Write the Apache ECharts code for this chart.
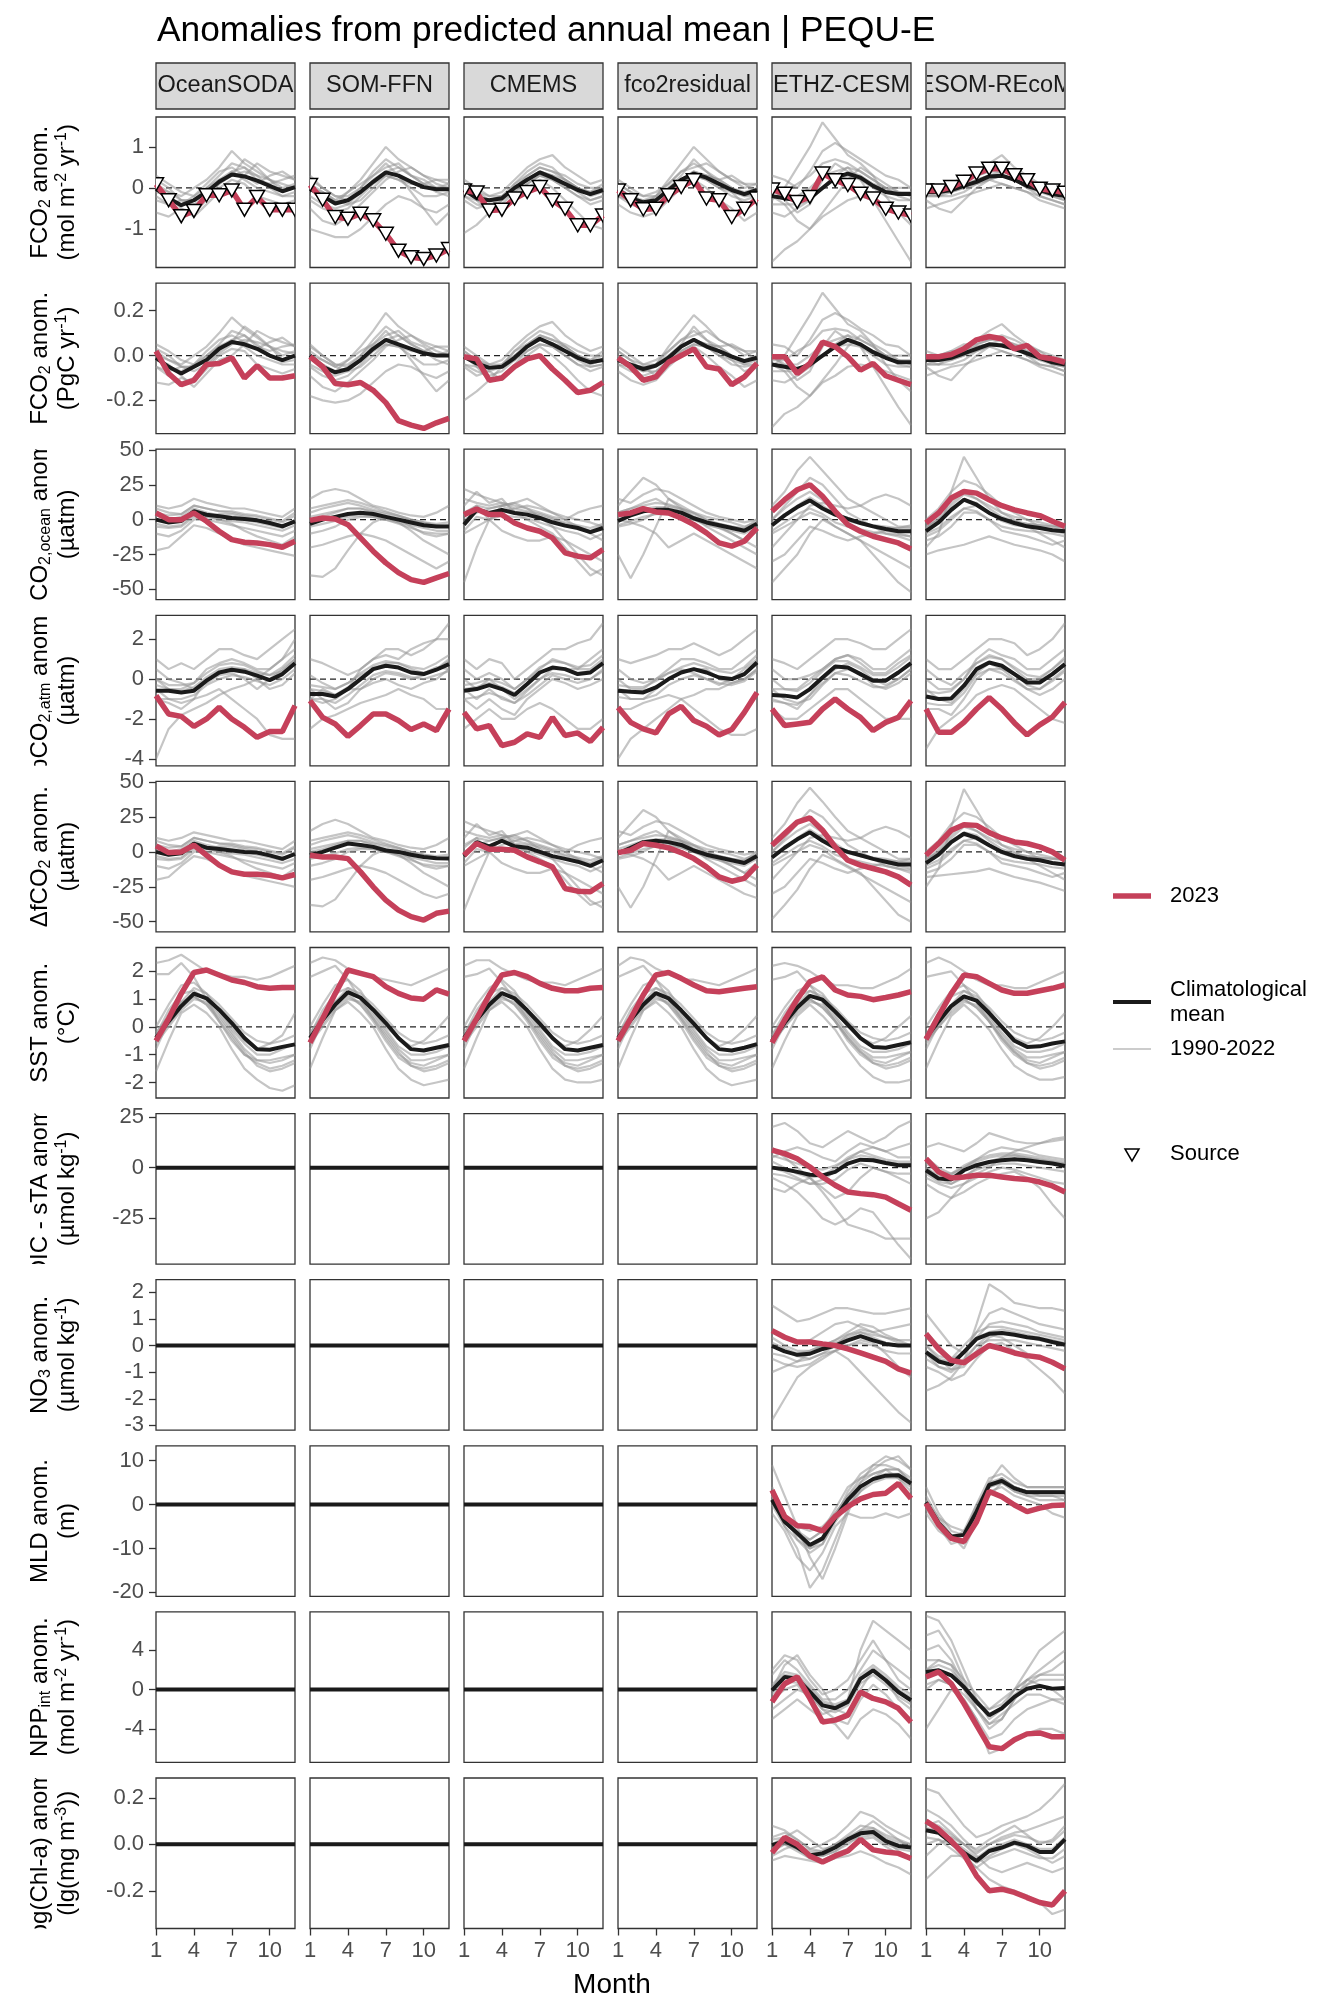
<!DOCTYPE html>
<html><head><meta charset="utf-8">
<script src="https://cdn.jsdelivr.net/npm/echarts@6/dist/echarts.min.js"></script>
<style>html,body{margin:0;padding:0;background:#fff;}#c{width:1344px;height:2016px;}</style>
</head><body><div id="c"></div>
<script>
// ---------------- DATA ----------------
const months = [1,2,3,4,5,6,7,8,9,10,11,12];
const models = ['OceanSODA','SOM-FFN','CMEMS','fco2residual','ETHZ-CESM','ESOM-REcoM'];
const xTicks = [1,4,7,10];

// Row 1: FCO2 anom. (mol m-2 yr-1)
const fco2Ticks = [-1,0,1];
const fco2Mean = [
 [-0.02,-0.25,-0.42,-0.3,-0.1,0.15,0.33,0.28,0.18,0.05,-0.08,0.02],
 [-0.02,-0.2,-0.38,-0.3,-0.1,0.15,0.38,0.3,0.15,0.02,-0.03,-0.03],
 [-0.05,-0.25,-0.3,-0.25,0.0,0.2,0.38,0.25,0.1,-0.05,-0.15,-0.05],
 [-0.05,-0.25,-0.35,-0.3,-0.05,0.2,0.35,0.25,0.1,-0.05,-0.15,-0.05],
 [-0.2,-0.25,-0.3,-0.25,0.0,0.25,0.35,0.25,0.05,-0.1,-0.15,-0.15],
 [-0.1,-0.1,-0.05,0.05,0.15,0.28,0.3,0.2,0.05,-0.05,-0.15,-0.2]
];
const fco2Y2023 = [
 [0.09,-0.3,-0.69,-0.56,-0.18,-0.18,-0.06,-0.53,-0.22,-0.53,-0.53,-0.53],
 [0.07,-0.29,-0.71,-0.75,-0.63,-0.79,-1.12,-1.53,-1.69,-1.73,-1.65,-1.49],
 [-0.06,-0.11,-0.55,-0.53,-0.26,-0.1,0.02,-0.3,-0.51,-0.91,-0.91,-0.67],
 [-0.06,-0.3,-0.52,-0.51,-0.18,0.02,0.19,-0.26,-0.3,-0.71,-0.51,-0.26],
 [-0.04,-0.14,-0.34,-0.22,0.35,0.19,0.07,-0.14,-0.26,-0.51,-0.6,-0.67],
 [-0.06,-0.06,0.02,0.15,0.35,0.47,0.47,0.31,0.19,-0.02,-0.06,-0.12]
];
const fco2Hist = [
 [[0.1,-0.1,-0.2,0.0,0.2,0.5,0.9,0.6,0.4,0.2,0.1,0.0],[-0.2,-0.4,-0.6,-0.5,-0.2,0.1,0.3,0.4,0.3,0.2,0.0,0.1],[0.0,-0.3,-0.4,-0.2,0.1,0.4,0.5,0.3,0.1,0.3,0.4,0.2],[-0.6,-0.7,-0.5,-0.6,-0.3,0.0,0.2,0.1,-0.2,-0.3,-0.4,-0.3],[0.3,0.1,-0.1,-0.2,0.0,0.2,0.3,0.7,0.5,0.2,-0.1,0.0],[-0.1,-0.2,-0.5,-0.7,-0.4,-0.1,0.0,0.3,0.6,0.4,0.3,0.2],[0.2,0.0,-0.3,-0.3,0.0,0.3,0.6,0.5,0.3,0.0,-0.2,-0.1],[-0.3,-0.4,-0.3,-0.3,-0.1,0.2,0.4,0.2,0.0,-0.1,-0.2,-0.2],[0.0,-0.1,-0.3,-0.4,-0.2,0.1,0.4,0.5,0.2,0.1,0.2,0.3]],
 [[0.1,-0.1,-0.3,-0.1,0.2,0.6,1.0,0.7,0.5,0.3,0.2,0.2],[-1.0,-1.1,-1.2,-1.2,-1.0,-0.7,-0.4,-0.2,-0.3,-0.5,-0.6,-0.4],[0.3,0.0,-0.2,-0.3,0.0,0.3,0.5,0.6,0.3,0.2,0.0,0.1],[-0.3,-0.5,-0.6,-0.5,-0.2,0.1,0.3,0.2,0.0,-0.2,-0.2,-0.1],[-0.5,-0.8,-0.9,-0.7,-0.4,-0.1,0.2,0.4,0.5,0.3,0.1,0.0],[0.0,-0.2,-0.4,-0.1,0.1,0.3,0.6,0.3,-0.1,-0.5,-0.9,-0.6],[0.2,0.0,-0.2,-0.2,0.0,0.4,0.7,0.5,0.3,0.1,0.0,0.0],[-0.2,-0.4,-0.5,-0.4,-0.1,0.2,0.4,0.5,0.3,0.1,-0.1,-0.2],[0.0,-0.1,-0.3,-0.4,-0.3,0.0,0.3,0.2,0.1,0.1,0.2,0.1]],
 [[-1.1,-0.9,-0.6,-0.5,-0.2,0.1,0.3,0.2,0.0,-0.2,-0.4,-0.3],[0.2,0.0,-0.2,-0.1,0.2,0.5,0.7,0.8,0.5,0.3,0.1,0.2],[-0.2,-0.4,-0.5,-0.4,-0.1,0.2,0.4,0.3,0.1,-0.1,-0.3,-0.2],[0.1,-0.1,-0.3,-0.2,0.0,0.3,0.5,0.4,0.3,0.1,0.0,0.0],[-0.3,-0.5,-0.4,-0.6,-0.3,0.0,0.2,0.0,-0.3,-0.6,-0.9,-1.0],[0.0,-0.3,-0.6,-0.3,0.1,0.4,0.6,0.5,0.2,0.0,-0.1,0.1],[0.1,-0.1,-0.2,-0.2,0.1,0.3,0.5,0.4,0.2,0.0,-0.1,0.0],[-0.2,-0.3,-0.4,-0.3,-0.1,0.1,0.3,0.2,0.0,-0.2,-0.3,-0.2],[0.0,-0.2,-0.3,-0.3,0.0,0.2,0.4,0.3,0.2,0.0,-0.2,-0.1]],
 [[0.0,-0.2,-0.4,-0.2,0.2,0.6,1.0,0.7,0.4,0.2,0.1,0.1],[-0.4,-0.6,-0.7,-0.6,-0.3,0.0,0.2,0.0,-0.3,-0.5,-0.8,-0.6],[0.2,0.0,-0.2,-0.1,0.1,0.4,0.5,0.6,0.4,0.2,0.0,0.1],[-0.2,-0.4,-0.5,-0.4,-0.2,0.1,0.3,0.2,0.0,-0.2,-0.3,-0.2],[-0.1,-0.3,-0.3,-0.5,-0.1,0.2,0.4,0.3,0.2,0.3,0.1,-0.1],[0.1,-0.1,-0.4,-0.3,0.0,0.3,0.7,0.4,0.1,-0.1,-0.4,-0.3],[0.1,-0.1,-0.2,-0.2,0.1,0.4,0.6,0.4,0.2,0.0,-0.1,0.0],[-0.2,-0.3,-0.4,-0.4,-0.1,0.1,0.3,0.2,0.0,-0.1,-0.2,-0.2],[0.0,-0.2,-0.3,-0.2,0.0,0.2,0.4,0.3,0.2,0.0,-0.2,-0.1]],
 [[-0.3,0.0,0.5,1.0,1.6,1.2,0.8,0.6,0.3,0.1,-0.1,-0.2],[-1.8,-1.5,-1.3,-1.0,-0.7,-0.5,-0.3,-0.2,-0.3,-0.4,-0.5,-0.6],[0.3,0.2,0.0,0.4,0.9,1.1,0.9,0.7,0.5,0.3,0.2,0.0],[-0.6,-0.7,-0.5,-0.3,0.0,0.3,0.5,0.2,-0.3,-0.8,-1.3,-1.8],[0.0,-0.3,-0.6,-0.4,0.2,0.6,0.4,0.3,0.1,0.0,-0.2,-0.3],[-0.2,-0.4,-0.8,-1.0,-0.6,-0.2,0.2,0.5,0.3,-0.2,-0.6,-0.9],[-0.1,-0.1,0.1,0.3,0.6,0.7,0.6,0.4,0.2,0.0,-0.1,-0.1],[-0.4,-0.4,-0.4,-0.3,0.0,0.2,0.3,0.2,0.0,-0.2,-0.3,-0.3],[0.0,-0.2,-0.2,0.0,0.3,0.4,0.5,0.4,0.2,0.0,0.0,0.0]],
 [[-0.2,-0.1,0.0,0.2,0.4,0.6,0.8,0.5,0.3,0.1,-0.1,-0.2],[-0.5,-0.4,-0.3,-0.2,-0.1,0.0,0.1,0.0,-0.1,-0.3,-0.4,-0.5],[0.1,0.0,0.1,0.3,0.3,0.4,0.5,0.4,0.2,0.0,-0.1,-0.2],[-0.3,-0.5,-0.6,-0.3,0.0,0.2,0.3,0.2,0.0,-0.2,-0.3,-0.4],[0.0,-0.1,-0.1,0.0,0.2,0.3,0.4,0.3,0.2,0.1,0.0,-0.1],[-0.1,-0.2,-0.2,-0.1,0.1,0.2,0.1,0.0,-0.1,-0.2,-0.3,-0.4],[-0.2,-0.2,0.0,0.1,0.3,0.4,0.4,0.3,0.1,0.0,-0.2,-0.3],[0.0,0.0,0.1,0.1,0.2,0.3,0.3,0.2,0.0,-0.1,-0.1,-0.2],[-0.2,-0.2,-0.1,0.0,0.1,0.2,0.3,0.2,0.1,-0.1,-0.2,-0.3]]
];

// Row 2: FCO2 anom. (PgC yr-1)
const fco2PgTicks = [-0.2,0,0.2];
const fco2PgMean = [
 [-0.01,-0.05,-0.08,-0.05,-0.02,0.03,0.06,0.05,0.03,0.0,-0.02,0.0],
 [0.0,-0.05,-0.075,-0.06,-0.02,0.03,0.07,0.05,0.03,0.01,0.0,0.0],
 [-0.005,-0.035,-0.055,-0.05,-0.01,0.04,0.075,0.05,0.02,-0.01,-0.03,-0.02],
 [-0.02,-0.04,-0.06,-0.045,-0.01,0.04,0.07,0.04,0.02,-0.005,-0.025,-0.01],
 [-0.04,-0.05,-0.06,-0.04,0.0,0.04,0.07,0.05,0.015,-0.01,-0.03,-0.03],
 [-0.02,-0.02,-0.01,0.01,0.03,0.05,0.045,0.03,0.01,-0.01,-0.03,-0.04]
];
const fco2PgY2023 = [
 [0.02,-0.08,-0.13,-0.11,-0.04,-0.035,-0.01,-0.1,-0.045,-0.1,-0.1,-0.09],
 [-0.005,-0.05,-0.125,-0.13,-0.12,-0.155,-0.21,-0.29,-0.31,-0.325,-0.3,-0.28],
 [-0.005,-0.015,-0.11,-0.1,-0.05,-0.015,0.0,-0.06,-0.11,-0.165,-0.155,-0.12],
 [-0.01,-0.05,-0.11,-0.095,-0.03,0.0,0.03,-0.05,-0.06,-0.13,-0.095,-0.035],
 [-0.005,-0.005,-0.08,-0.035,0.06,0.04,-0.005,-0.065,-0.035,-0.09,-0.11,-0.13],
 [-0.005,-0.005,0.005,0.03,0.07,0.085,0.075,0.03,0.045,-0.005,-0.015,-0.03]
];
const fco2PgHist = [
 [[0.02,-0.02,-0.04,0.0,0.04,0.1,0.17,0.12,0.08,0.04,0.02,0.01],[-0.05,-0.09,-0.12,-0.1,-0.05,0.01,0.05,0.07,0.06,0.04,0.0,0.02],[0.0,-0.05,-0.07,-0.04,0.02,0.07,0.09,0.06,0.03,0.06,0.08,0.04],[-0.12,-0.13,-0.1,-0.12,-0.06,0.0,0.03,0.02,-0.04,-0.06,-0.08,-0.06],[0.05,0.02,-0.02,-0.04,0.0,0.04,0.06,0.13,0.09,0.04,-0.02,0.0],[-0.02,-0.04,-0.09,-0.14,-0.08,-0.02,0.0,0.05,0.11,0.08,0.06,0.04],[0.03,0.0,-0.05,-0.05,0.0,0.05,0.11,0.09,0.05,0.0,-0.03,-0.02],[-0.05,-0.07,-0.05,-0.05,-0.02,0.04,0.07,0.04,0.0,-0.02,-0.04,-0.04],[0.0,-0.02,-0.05,-0.07,-0.04,0.02,0.07,0.09,0.04,0.02,0.04,0.05]],
 [[0.02,-0.02,-0.05,-0.02,0.04,0.11,0.19,0.13,0.09,0.06,0.04,0.04],[-0.18,-0.2,-0.21,-0.2,-0.17,-0.12,-0.07,-0.04,-0.05,-0.08,-0.1,-0.07],[0.05,0.0,-0.04,-0.05,0.0,0.05,0.09,0.11,0.06,0.04,0.0,0.02],[-0.05,-0.09,-0.11,-0.09,-0.04,0.02,0.05,0.04,0.0,-0.04,-0.04,-0.02],[-0.09,-0.14,-0.16,-0.12,-0.07,-0.02,0.04,0.07,0.09,0.05,0.02,0.0],[0.0,-0.04,-0.07,-0.02,0.02,0.05,0.11,0.05,-0.02,-0.09,-0.16,-0.11],[0.04,0.0,-0.04,-0.04,0.0,0.07,0.13,0.09,0.05,0.02,0.0,0.0],[-0.04,-0.07,-0.09,-0.07,-0.02,0.04,0.07,0.09,0.05,0.02,-0.02,-0.04],[0.0,-0.02,-0.05,-0.07,-0.05,0.0,0.05,0.04,0.02,0.02,0.04,0.02]],
 [[-0.2,-0.16,-0.11,-0.09,-0.04,0.02,0.05,0.04,0.0,-0.04,-0.07,-0.05],[0.04,0.0,-0.04,-0.02,0.04,0.09,0.13,0.15,0.09,0.05,0.02,0.04],[-0.04,-0.07,-0.09,-0.07,-0.02,0.04,0.07,0.05,0.02,-0.02,-0.05,-0.04],[0.02,-0.02,-0.05,-0.04,0.0,0.05,0.09,0.07,0.05,0.02,0.0,0.0],[-0.05,-0.09,-0.07,-0.11,-0.05,0.0,0.04,0.0,-0.05,-0.11,-0.16,-0.18],[0.0,-0.05,-0.11,-0.05,0.02,0.07,0.11,0.09,0.04,0.0,-0.02,0.02],[0.02,-0.02,-0.04,-0.04,0.02,0.05,0.09,0.07,0.04,0.0,-0.02,0.0],[-0.04,-0.05,-0.07,-0.05,-0.02,0.02,0.05,0.04,0.0,-0.04,-0.05,-0.04],[0.0,-0.04,-0.05,-0.05,0.0,0.04,0.07,0.05,0.04,0.0,-0.04,-0.02]],
 [[0.0,-0.04,-0.07,-0.04,0.04,0.11,0.18,0.13,0.07,0.04,0.02,0.02],[-0.07,-0.11,-0.13,-0.11,-0.05,0.0,0.04,0.0,-0.05,-0.09,-0.14,-0.11],[0.04,0.0,-0.04,-0.02,0.02,0.07,0.09,0.11,0.07,0.04,0.0,0.02],[-0.04,-0.07,-0.09,-0.07,-0.04,0.02,0.05,0.04,0.0,-0.04,-0.05,-0.04],[-0.02,-0.05,-0.05,-0.09,-0.02,0.04,0.07,0.05,0.04,0.05,0.02,-0.02],[0.02,-0.02,-0.07,-0.05,0.0,0.05,0.13,0.07,0.02,-0.02,-0.07,-0.05],[0.02,-0.02,-0.04,-0.04,0.02,0.07,0.11,0.07,0.04,0.0,-0.02,0.0],[-0.04,-0.05,-0.07,-0.07,-0.02,0.02,0.05,0.04,0.0,-0.02,-0.04,-0.04],[0.0,-0.04,-0.05,-0.04,0.0,0.04,0.07,0.05,0.04,0.0,-0.04,-0.02]],
 [[-0.05,0.0,0.09,0.18,0.28,0.21,0.14,0.11,0.05,0.02,-0.02,-0.04],[-0.32,-0.26,-0.23,-0.18,-0.12,-0.09,-0.05,-0.04,-0.05,-0.07,-0.09,-0.11],[0.05,0.04,0.0,0.07,0.16,0.19,0.16,0.12,0.09,0.05,0.04,0.0],[-0.11,-0.12,-0.09,-0.05,0.0,0.05,0.09,0.04,-0.05,-0.14,-0.23,-0.31],[0.0,-0.05,-0.11,-0.07,0.04,0.11,0.07,0.05,0.02,0.0,-0.04,-0.05],[-0.04,-0.07,-0.14,-0.18,-0.11,-0.04,0.04,0.09,0.05,-0.04,-0.11,-0.16],[-0.02,-0.02,0.02,0.05,0.11,0.12,0.11,0.07,0.04,0.0,-0.02,-0.02],[-0.07,-0.07,-0.07,-0.05,0.0,0.04,0.05,0.04,0.0,-0.04,-0.05,-0.05],[0.0,-0.04,-0.04,0.0,0.05,0.07,0.09,0.07,0.04,0.0,0.0,0.0]],
 [[-0.04,-0.02,0.0,0.04,0.07,0.11,0.14,0.09,0.05,0.02,-0.02,-0.04],[-0.09,-0.07,-0.05,-0.04,-0.02,0.0,0.02,0.0,-0.02,-0.05,-0.07,-0.09],[0.02,0.0,0.02,0.05,0.05,0.07,0.09,0.07,0.04,0.0,-0.02,-0.04],[-0.05,-0.09,-0.11,-0.05,0.0,0.04,0.05,0.04,0.0,-0.04,-0.05,-0.07],[0.0,-0.02,-0.02,0.0,0.04,0.05,0.07,0.05,0.04,0.02,0.0,-0.02],[-0.02,-0.04,-0.04,-0.02,0.02,0.04,0.02,0.0,-0.02,-0.04,-0.05,-0.07],[-0.04,-0.04,0.0,0.02,0.05,0.07,0.07,0.05,0.02,0.0,-0.04,-0.05],[0.0,0.0,0.02,0.02,0.04,0.05,0.05,0.04,0.0,-0.02,-0.02,-0.04],[-0.04,-0.04,-0.02,0.0,0.02,0.04,0.05,0.04,0.02,-0.02,-0.04,-0.05]]
];

// Row 3: pCO2,ocean anom. (µatm)
const pco2oTicks = [-50,-25,0,25,50];
const pco2oMean = [
 [0,-2,-1,6,3.5,2.4,1.2,0.5,-0.5,-2.4,-4.8,-1.2],
 [-3,0,2,4,5,4,2,0,-2,-4,-5,-5],
 [-3.6,7,4.8,7,4.8,3.6,1.2,-1.9,-4.3,-6,-9,-6],
 [-1,3,6,7,7,5,1,-2,-4,-6,-8,-3],
 [-4,3,9,13.8,8,3.6,0.5,-2.4,-4.8,-6.7,-8.3,-8.3],
 [-8.3,-2,7,14.3,10.7,4.8,0.5,-2.4,-4.8,-6,-7.6,-8.3]
];
const pco2oY2023 = [
 [4.8,0,0,4.8,-1.2,-8.3,-14.3,-16.2,-16.7,-17.9,-19.8,-15.5],
 [-0.5,1.2,0.5,-3.6,-13.1,-22.6,-31,-38,-43,-45,-41.7,-38.6],
 [3.6,7.6,3.6,3.6,-2.4,-6,-8.3,-13.1,-23.8,-26.2,-27.4,-21.4],
 [3.6,4.8,7.9,5.5,4.8,1.2,-3.6,-9.5,-16.7,-19,-15.5,-6],
 [6,14.3,21.4,25,16.7,6,-3.6,-8.3,-11.9,-14.3,-16.7,-21],
 [-2.4,4.8,15.5,20.2,19,14.3,10,7,4.8,2.9,-1.2,-4.8]
];
const pco2oHist = [
 [[-22,-20,-12,-4,-6,-10,-14,-18,-20,-22,-24,-26],[10,8,10,15,12,10,8,8,6,4,2,8],[5,3,4,10,8,6,5,3,2,0,-2,3],[-5,-6,-5,2,0,-2,-4,-6,-8,-10,-12,-8],[0,-2,-1,6,3,0,-3,-8,-12,-15,-18,-12],[-10,-12,-8,0,2,4,4,2,0,-2,-4,-2],[8,5,4,10,8,6,6,4,3,1,-1,5],[-3,-5,-4,4,2,0,-1,-2,-4,-6,-8,-4],[3,0,2,8,5,3,2,0,-2,-4,-6,0]],
 [[-40,-41,-35,-22,-10,-2,2,0,-5,-10,-12,-10],[15,20,22,20,15,10,8,5,3,2,5,10],[5,8,10,12,10,7,5,3,0,-2,-4,-5],[-10,-8,-5,0,2,2,0,-3,-6,-9,-10,-10],[-20,-18,-15,-12,-10,-12,-15,-20,-25,-30,-35,-30],[0,2,5,8,8,5,2,-2,-8,-15,-20,-25],[8,10,12,14,12,9,6,3,0,-2,-3,-2],[-5,-3,-1,2,3,2,0,-2,-4,-6,-8,-8],[2,4,6,8,8,6,4,2,-1,-3,-5,-4]],
 [[-45,-20,0,10,12,8,2,-5,-15,-25,-35,-40],[22,18,15,12,10,8,5,2,0,5,8,10],[10,20,12,15,5,0,-5,-10,-20,-30,-40,-35],[-10,-5,0,5,8,10,8,5,2,0,-2,-5],[0,5,8,10,12,15,10,5,0,-5,-10,-15],[5,10,0,-8,-12,-15,-15,-12,-15,-20,-25,-30],[15,12,10,12,8,6,4,1,-2,-4,-6,-3],[-8,2,0,3,2,1,-2,-5,-8,-10,-14,-10],[3,10,8,10,6,5,3,0,-3,-5,-8,-4]],
 [[-25,-42,-25,-5,15,10,5,0,-5,-10,-15,-20],[10,20,30,25,15,8,2,-5,-10,-15,-20,-25],[5,8,12,15,10,8,5,2,0,-2,-5,-2],[-5,-3,0,5,5,3,0,-3,-6,-10,-15,-8],[0,-2,-5,-10,-20,-15,-10,-15,-20,-25,-30,-35],[15,12,18,22,20,15,10,5,2,0,-2,0],[5,8,10,12,11,8,4,0,-3,-5,-7,-2],[-4,-1,2,4,4,3,0,-4,-6,-8,-10,-5],[2,5,8,9,9,7,2,-1,-3,-5,-6,0]],
 [[-45,-35,-25,-10,0,-5,-10,-15,-20,-25,-30,-35],[10,20,35,45,35,25,15,10,5,0,-5,-5],[0,10,20,30,25,15,5,0,-5,-10,-12,-15],[-10,-5,0,5,2,-5,-10,-15,-25,-35,-45,-52],[-20,-10,0,10,12,10,8,10,15,18,15,10],[-30,-25,-15,-5,-8,-12,-15,-12,-10,-8,-10,-12],[0,8,15,20,14,6,0,-2,-4,-5,-6,-6],[-8,-2,4,8,4,-2,-5,-7,-9,-10,-11,-12],[-3,4,10,16,10,4,-1,-3,-5,-6,-6,-4]],
 [[-20,-10,20,45,30,15,5,0,-5,-10,-15,-20],[-25,-22,-20,-18,-15,-12,-15,-18,-20,-22,-25,-30],[0,8,20,28,25,18,10,5,0,-5,-8,-10],[-12,-8,0,8,10,5,0,-2,-3,-4,-5,-5],[-5,0,10,18,15,10,5,2,0,-2,-4,-6],[-15,-12,-5,5,5,0,-8,-10,-12,-15,-18,-15],[-6,2,12,20,15,8,2,-1,-3,-4,-5,-5],[-10,-6,2,8,6,0,-5,-7,-8,-9,-10,-12],[-6,0,8,14,12,5,-1,-4,-5,-6,-7,-7]]
];

// Row 4: pCO2,atm anom. (µatm)
const pco2aTicks = [-4,-2,0,2];
const pco2aMean = [
 [-0.58,-0.58,-0.67,-0.58,-0.08,0.33,0.47,0.37,0.17,-0.05,0.25,0.8],
 [-0.75,-0.75,-0.87,-0.5,0,0.5,0.67,0.58,0.33,0.25,0.47,0.75],
 [-0.58,-0.5,-0.3,-0.5,-0.8,-0.25,0.33,0.58,0.5,0.25,0.33,0.8],
 [-0.58,-0.63,-0.67,-0.42,0,0.33,0.5,0.33,0.08,0,0.25,0.83],
 [-0.8,-0.83,-0.92,-0.5,0.08,0.63,0.58,0.25,-0.08,-0.08,0.33,0.8],
 [-0.87,-1,-0.97,-0.33,0.5,0.83,0.67,0.25,-0.17,-0.17,0.25,0.75]
];
const pco2aY2023 = [
 [-0.83,-1.75,-1.87,-2.37,-2.0,-1.42,-2.0,-2.42,-2.92,-2.63,-2.63,-1.33],
 [-1.08,-1.92,-2.25,-2.87,-2.33,-1.75,-1.75,-2.08,-2.53,-2.25,-2.58,-1.5],
 [-1.67,-2.5,-2.33,-3.33,-3.17,-2.75,-2.92,-1.92,-2.83,-2.7,-3.13,-2.42],
 [-1.42,-2.17,-2.5,-2.7,-1.75,-1.37,-2.08,-2.37,-2.8,-2.53,-1.67,-0.67],
 [-1.5,-2.33,-2.25,-2.17,-1.5,-1.0,-1.5,-1.92,-2.58,-2.17,-1.92,-1.08],
 [-1.5,-2.67,-2.67,-2.17,-1.5,-0.92,-1.5,-2.2,-2.8,-2.3,-1.9,-1.17]
];
const pco2aHist = [
 [[-4,-2.5,-1.8,-1.5,-1.2,-0.8,-0.5,-0.3,0,0.5,1,2],[1,0.5,0.8,0.5,1,1.5,1.5,1.2,1,1.5,2,2.5],[0,-0.5,-0.5,-0.2,0.5,0.8,1,0.8,0.5,0.5,1,1.5],[-1,-1.2,-1.5,-1,-0.8,-0.5,-1,-1.5,-2,-2.8,-3,-3],[-0.5,-1,-1.2,-1,0,0.3,0.5,0.5,0,-0.5,-0.3,0.3],[0.5,0,-0.2,-0.5,-0.2,0.2,0.3,0,-0.5,0,0.5,1],[0,-0.3,-0.3,-0.2,0.3,0.7,0.8,0.7,0.4,0.2,0.6,1.2],[-1,-1,-1,-0.8,-0.3,0,0.2,0.1,-0.1,-0.3,0,0.5],[-0.3,-0.5,-0.6,-0.4,0.1,0.5,0.6,0.5,0.3,0.2,0.4,1]],
 [[-1,-0.5,-0.8,-0.5,0.5,1,1.5,1.5,1.2,1.5,2,2.8],[1,0.8,0.5,0.2,0.5,1,1.2,1,1.5,1.8,2,2],[-0.5,-1,-1.5,-1.2,-0.5,0,0.3,0.2,0,0.2,0.5,1],[-2.5,-2,-1.8,-1.5,-1.2,-1,-0.8,-0.5,-0.8,-1,-1.5,-1.5],[0.2,-0.2,-0.5,-0.2,0.2,0.5,0.8,0.8,0.5,0.3,0.6,0.5],[-1,-1.2,-1,-0.5,-0.5,-0.2,0,-0.3,-0.5,-0.2,0,0.5],[-0.3,-0.4,-0.5,-0.2,0.3,0.7,0.9,0.8,0.6,0.5,0.8,1.2],[-1,-1,-1.2,-0.8,-0.3,0.2,0.4,0.3,0.1,0,0.2,0.4],[-0.5,-0.6,-0.8,-0.4,0,0.6,0.7,0.6,0.3,0.3,0.5,0.9]],
 [[-2.5,-2,-1.5,-2,-2,-1.5,-1.2,-1.5,-2,-2.5,-2.5,-2],[1,0.5,1,0.8,0,0.5,1,1.5,1.5,1.8,2,2.8],[0,-0.5,0,-0.5,-1,-0.5,0,0.5,0.5,0.5,1,1.5],[-1,-1.5,-1,-1.5,-1.8,-1,-0.5,0,-0.2,-0.5,-0.3,0],[0.5,0,0.3,0,-0.5,0,0.5,1,0.8,0.5,0.5,1],[-0.5,-1,-0.5,-1,-1.2,-0.8,-0.3,0.2,0,-0.2,0,0.5],[-0.3,-0.2,0,-0.2,-0.5,0,0.6,0.9,0.8,0.6,0.7,1.2],[-1,-0.9,-0.7,-0.9,-1.2,-0.6,0,0.3,0.2,0,0,0.4],[-0.5,-0.4,-0.2,-0.4,-0.7,-0.2,0.3,0.6,0.5,0.3,0.4,0.8]],
 [[-4,-3,-2.5,-2,-1.5,-1,-0.8,-0.5,-0.5,-0.2,0,0.5],[1,0.8,1,1.2,1.5,1.5,1.8,1.5,1.2,1.5,2,2.5],[0,-0.5,-0.5,0,0.5,1,1,0.8,0.5,0.5,1,1.5],[-1.5,-1.5,-1.2,-1,-0.8,-1,-1.5,-2,-2.5,-2.8,-2.8,-2.5],[-0.5,-1,-1,-0.5,0,0.3,0.5,0.5,0,-0.2,0,0.5],[0.5,0,-0.2,0,0.3,0.5,0.3,0,-0.3,0,0.5,1],[-0.3,-0.4,-0.4,-0.1,0.3,0.6,0.8,0.6,0.4,0.3,0.6,1.2],[-0.9,-1,-1,-0.8,-0.3,0,0.2,0,-0.2,-0.3,-0.1,0.4],[-0.5,-0.6,-0.6,-0.4,0,0.4,0.5,0.4,0.1,0,0.3,0.9]],
 [[-1.5,-2,-2,-1.5,-1,-0.5,-0.5,-1,-1.5,-2,-2,-2],[1,0.8,0.5,1,1.5,2,2,1.8,1.5,1.5,2,2.5],[0,-0.5,-0.5,0,0.5,1,1.2,1,0.5,0.5,1,1.5],[-0.5,-1,-1.2,-1,-0.3,0.3,0.5,0.3,-0.3,-0.5,-0.2,0.3],[0.5,0,0,0.2,0.5,1,1.2,0.8,0.3,0.3,0.8,1.2],[-1,-1.2,-1.5,-0.8,0,0.5,0.8,0.5,0,-0.3,0,0.5],[-0.5,-0.5,-0.6,-0.2,0.4,0.9,0.9,0.6,0.2,0.2,0.6,1.1],[-1.1,-1.2,-1.3,-0.8,-0.2,0.3,0.2,-0.1,-0.4,-0.4,0,0.5],[-0.8,-0.8,-0.9,-0.5,0.1,0.6,0.6,0.3,-0.1,-0.1,0.3,0.8]],
 [[-3.5,-2.5,-2,-1.5,-0.8,-0.5,-0.3,-0.5,-1,-1.5,-2,-2.2],[1,0.5,0.5,1,1.5,2,2,1.8,1.2,1.5,2,2.8],[0,-0.5,-0.5,0,1,1.5,1.2,1,0.5,0.5,1,1.5],[-0.5,-1,-1.2,-0.5,0.3,0.8,0.5,0.3,-0.3,-0.5,0,0.5],[-1.5,-1.5,-1.8,-1,0,0.5,0.5,0,-0.5,-0.8,-0.5,0],[0.5,0,-0.3,0.3,0.8,1.2,1,0.5,0,0,0.5,1],[-0.6,-0.7,-0.6,0,0.8,1.1,1,0.6,0.2,0.1,0.5,1.1],[-1.2,-1.3,-1.3,-0.7,0.2,0.5,0.3,-0.1,-0.5,-0.5,-0.1,0.4],[-0.9,-1,-1,-0.3,0.5,0.8,0.7,0.3,-0.2,-0.2,0.3,0.8]]
];

// Row 5: ΔfCO2 anom. (µatm)
const dfco2Ticks = [-50,-25,0,25,50];
const dfco2Mean = [
 [0,-2,-1,6,3,2,1,0,-0.5,-2.5,-5,-1.5],
 [-2.4,0,3,6,5,3.6,1,0,-2,-3.6,-4.5,-4.8],
 [-3,7,4,8,4,3,0,-3,-5,-7,-10,-6],
 [-1,3,7,8,7,5,1,-2,-4,-6,-8,-3],
 [-4,3,9,14,8,3,0,-2.4,-5,-7,-9,-9],
 [-8,-2,7,13,10,4.8,0,-3,-5,-6,-8,-9]
];
const dfco2Y2023 = [
 [4.3,-0.5,0,4.8,-2.4,-9.5,-14.3,-16,-16,-16.7,-18.6,-16.2],
 [-2.4,-3.6,-3.6,-4.8,-14.3,-25,-34.5,-41.7,-46.4,-48.8,-44,-42.4],
 [-2.4,6,1.9,1.9,1.2,-3.6,-7.1,-10.7,-26.2,-28.1,-28.6,-22.6],
 [-0.5,1.2,6,4.8,2.9,-0.5,-4.8,-10.7,-17.9,-21,-19,-9.5],
 [4.8,13.1,21.4,24.3,15.5,3.6,-6,-9.5,-11.9,-14.3,-17.9,-23.8],
 [-2.4,6,15.5,19.5,19,13.8,10,7.1,6,3.6,0,-6]
];
const dfco2Hist = [
 [[-20,-18,-10,-3,-5,-9,-13,-17,-19,-21,-23,-25],[10,8,10,14,12,10,8,8,6,4,2,8],[5,3,4,10,8,6,5,3,2,0,-2,3],[-5,-6,-5,2,0,-2,-4,-6,-8,-10,-12,-8],[0,-2,-1,6,3,0,-3,-8,-12,-15,-18,-12],[-10,-12,-8,0,2,4,4,2,0,-2,-4,-2],[8,5,4,10,8,6,6,4,3,1,-1,4],[-3,-5,-4,4,2,0,-1,-2,-4,-6,-8,-5],[3,0,2,8,5,3,2,0,-2,-4,-6,0]],
 [[-38,-39,-34,-22,-10,-2,2,0,-5,-10,-12,-10],[15,20,23,20,15,10,8,5,3,2,5,10],[5,8,10,12,10,7,5,3,0,-2,-4,-5],[-10,-8,-5,0,2,2,0,-3,-6,-9,-10,-10],[-20,-18,-15,-12,-10,-12,-15,-20,-25,-30,-33,-30],[0,2,5,8,8,5,2,-2,-8,-15,-20,-25],[8,10,12,14,12,9,6,3,0,-2,-3,-2],[-5,-3,-1,2,3,2,0,-2,-4,-6,-8,-8],[2,4,6,8,8,6,4,2,-1,-3,-5,-4]],
 [[-42,-20,0,10,12,8,2,-5,-15,-25,-35,-40],[22,18,15,12,10,8,5,2,0,5,8,10],[10,20,12,15,5,0,-5,-10,-20,-30,-38,-35],[-10,-5,0,5,8,10,8,5,2,0,-2,-5],[0,5,8,10,12,15,10,5,0,-5,-10,-15],[5,10,0,-8,-12,-15,-15,-12,-15,-20,-25,-30],[15,12,10,12,8,6,4,1,-2,-4,-6,-3],[-8,2,0,3,2,1,-2,-5,-8,-10,-14,-10],[3,10,8,10,6,5,3,0,-3,-5,-8,-4]],
 [[-25,-40,-25,-5,15,10,5,0,-5,-10,-15,-20],[10,20,30,25,15,8,2,-5,-10,-15,-20,-25],[5,8,12,15,10,8,5,2,0,-2,-5,-2],[-5,-3,0,5,5,3,0,-3,-6,-10,-15,-8],[0,-2,-5,-10,-20,-15,-10,-15,-20,-25,-30,-33],[15,12,18,22,20,15,10,5,2,0,-2,0],[5,8,10,12,11,8,4,0,-3,-5,-7,-2],[-4,-1,2,4,4,3,0,-4,-6,-8,-10,-5],[2,5,8,9,9,7,2,-1,-3,-5,-6,0]],
 [[-48,-38,-27,-12,-2,-6,-11,-16,-21,-26,-31,-36],[10,20,35,46,36,25,15,10,5,0,-5,-5],[0,10,20,30,25,15,5,0,-5,-10,-12,-15],[-10,-5,0,5,2,-5,-10,-15,-25,-35,-45,-50],[-20,-10,0,10,12,10,8,10,15,18,15,10],[-30,-25,-15,-5,-8,-12,-15,-12,-10,-8,-10,-12],[0,8,15,20,14,6,0,-2,-4,-5,-7,-7],[-8,-2,4,8,4,-2,-5,-7,-9,-10,-12,-13],[-3,4,10,16,10,4,-1,-3,-5,-6,-7,-5]],
 [[-25,-12,18,45,30,15,5,0,-5,-10,-15,-20],[-18,-17,-16,-15,-14,-12,-15,-18,-20,-22,-25,-28],[0,8,20,28,25,18,10,5,0,-5,-8,-10],[-12,-8,0,8,10,5,0,-2,-3,-4,-5,-5],[-5,0,10,18,15,10,5,2,0,-2,-4,-6],[-15,-12,-5,5,5,0,-8,-10,-12,-15,-18,-15],[-6,2,12,20,15,8,2,-1,-3,-4,-5,-6],[-10,-6,2,8,6,0,-5,-7,-8,-9,-11,-12],[-6,0,8,14,12,5,-1,-4,-5,-6,-8,-8]]
];

// Row 6: SST anom. (°C)
const sstTicks = [-2,-1,0,1,2];
const sstMean = [
 [-0.4,0.2,0.75,1.2,1.03,0.62,0.14,-0.4,-0.8,-0.82,-0.72,-0.63],
 [-0.4,0.25,0.8,1.25,1.05,0.62,0.14,-0.4,-0.8,-0.85,-0.75,-0.65],
 [-0.4,0.25,0.8,1.22,1.03,0.6,0.12,-0.4,-0.8,-0.85,-0.75,-0.65],
 [-0.4,0.25,0.8,1.22,1.03,0.6,0.12,-0.4,-0.8,-0.85,-0.75,-0.62],
 [-0.5,0.15,0.7,1.12,0.98,0.55,0.08,-0.4,-0.72,-0.75,-0.65,-0.55],
 [-0.4,0.2,0.75,1.1,0.95,0.5,0.0,-0.5,-0.72,-0.7,-0.6,-0.52]
];
const sstY2023 = [
 [-0.5,0.3,1.2,1.96,2.05,1.87,1.69,1.6,1.45,1.39,1.42,1.42],
 [-0.57,0.3,1.2,2.05,1.93,1.81,1.45,1.21,1.04,1.0,1.33,1.18],
 [-0.5,0.3,1.15,1.87,1.96,1.81,1.57,1.39,1.3,1.3,1.39,1.42],
 [-0.5,0.3,1.15,1.87,1.96,1.75,1.51,1.3,1.27,1.33,1.39,1.45],
 [-0.57,0.25,1.0,1.63,1.8,1.33,1.15,1.1,0.98,1.06,1.15,1.27],
 [-0.45,0.4,1.2,1.87,1.81,1.57,1.33,1.21,1.21,1.3,1.39,1.51]
];
const sstHist = [
 [[2.3,2.4,2.6,2.3,2.0,1.9,1.8,1.8,1.7,1.8,2.0,2.2],[1.9,1.9,2.3,1.8,1.0,0.2,-0.5,-1.0,-1.2,-1.3,-1.2,-1.0],[-1.6,-0.5,0.5,0.8,0.5,0.0,-0.8,-1.5,-1.9,-2.2,-2.3,-2.1],[0.0,0.8,1.5,1.6,1.2,0.6,0.0,-0.5,-0.8,-0.6,-0.3,0.5],[-0.8,0.2,0.9,1.1,0.8,0.2,-0.4,-1.0,-1.3,-1.5,-1.4,-1.2],[-0.3,0.6,1.2,1.3,1.0,0.5,-0.1,-0.6,-1.0,-1.0,-0.8,-0.6],[-0.6,0.0,0.6,1.0,0.9,0.4,-0.2,-0.8,-1.2,-1.2,-1.1,-1.0],[-0.2,0.4,0.9,1.4,1.2,0.8,0.3,-0.2,-0.5,-0.6,-0.5,-0.3],[-0.5,0.1,0.7,1.1,0.8,0.3,-0.3,-0.9,-1.4,-1.6,-1.5,-1.3]],
 [[2.3,2.5,2.4,2.1,1.9,1.8,1.7,1.6,1.5,1.7,1.9,2.1],[1.8,2.0,2.2,1.7,1.0,0.3,-0.4,-1.0,-1.3,-1.4,-1.2,-1.0],[-1.5,-0.4,0.6,0.9,0.5,0.0,-0.8,-1.5,-1.9,-2.1,-2.0,-1.9],[0.0,0.8,1.5,1.7,1.3,0.6,0.0,-0.4,-0.7,-0.5,-0.1,0.4],[-0.8,0.2,0.9,1.2,0.8,0.2,-0.5,-1.1,-1.4,-1.5,-1.4,-1.2],[-0.3,0.6,1.2,1.4,1.1,0.5,-0.1,-0.7,-1.0,-1.0,-0.9,-0.7],[-0.6,0.0,0.6,1.0,0.9,0.4,-0.2,-0.8,-1.2,-1.2,-1.1,-1.0],[-0.2,0.4,0.9,1.4,1.2,0.8,0.3,-0.2,-0.5,-0.6,-0.5,-0.3],[-0.5,0.1,0.7,1.1,0.8,0.3,-0.3,-0.9,-1.4,-1.6,-1.5,-1.3]],
 [[2.2,2.4,2.4,2.1,1.9,1.7,1.6,1.6,1.5,1.7,1.9,2.1],[1.8,1.9,2.1,1.6,1.0,0.3,-0.4,-1.0,-1.3,-1.4,-1.2,-1.0],[-1.5,-0.4,0.6,0.9,0.5,0.0,-0.8,-1.5,-1.9,-2.0,-2.0,-1.9],[0.0,0.8,1.4,1.7,1.3,0.6,0.0,-0.4,-0.7,-0.5,-0.1,0.4],[-0.8,0.2,0.9,1.1,0.8,0.2,-0.5,-1.1,-1.4,-1.5,-1.4,-1.2],[-0.3,0.6,1.2,1.4,1.1,0.5,-0.1,-0.7,-1.0,-1.0,-0.9,-0.7],[-0.6,0.0,0.6,1.0,0.9,0.4,-0.2,-0.8,-1.2,-1.2,-1.1,-1.0],[-0.2,0.4,0.9,1.4,1.2,0.8,0.3,-0.2,-0.5,-0.6,-0.5,-0.3],[-0.5,0.1,0.7,1.1,0.8,0.3,-0.3,-0.9,-1.4,-1.6,-1.5,-1.3]],
 [[2.2,2.5,2.4,2.1,1.9,1.7,1.7,1.6,1.5,1.7,1.9,2.1],[1.8,2.0,2.2,1.7,1.0,0.3,-0.4,-1.0,-1.3,-1.4,-1.2,-1.0],[-1.5,-0.4,0.6,0.9,0.5,0.0,-0.8,-1.5,-1.9,-2.1,-2.0,-1.9],[0.0,0.8,1.5,1.7,1.3,0.6,0.0,-0.4,-0.7,-0.5,-0.1,0.4],[-0.8,0.2,0.9,1.2,0.8,0.2,-0.5,-1.1,-1.4,-1.5,-1.4,-1.2],[-0.3,0.6,1.2,1.4,1.1,0.5,-0.1,-0.7,-1.0,-1.0,-0.9,-0.7],[-0.6,0.0,0.6,1.0,0.9,0.4,-0.2,-0.8,-1.2,-1.2,-1.1,-1.0],[-0.2,0.4,0.9,1.4,1.2,0.8,0.3,-0.2,-0.5,-0.6,-0.5,-0.3],[-0.5,0.1,0.7,1.1,0.8,0.3,-0.3,-0.9,-1.4,-1.6,-1.5,-1.3]],
 [[2.2,2.3,2.2,2.0,1.7,1.5,1.5,1.4,1.4,1.6,1.8,2.1],[1.7,1.8,2.0,1.5,0.9,0.2,-0.4,-0.9,-1.2,-1.3,-1.1,-0.9],[-1.5,-0.5,0.4,0.8,0.4,-0.1,-0.8,-1.4,-1.8,-2.0,-2.0,-1.9],[0.0,0.7,1.3,1.5,1.2,0.6,0.0,-0.4,-0.6,-0.4,0.0,0.4],[-0.8,0.1,0.8,1.0,0.7,0.2,-0.5,-1.0,-1.3,-1.4,-1.3,-1.1],[-0.3,0.5,1.1,1.3,1.0,0.4,-0.2,-0.7,-0.9,-0.9,-0.8,-0.6],[-0.6,0.0,0.5,0.9,0.8,0.3,-0.3,-0.8,-1.1,-1.1,-1.0,-0.9],[-0.3,0.3,0.8,1.3,1.1,0.7,0.2,-0.2,-0.4,-0.5,-0.4,-0.2],[-0.5,0.0,0.6,1.0,0.7,0.2,-0.4,-0.9,-1.3,-1.5,-1.4,-1.2]],
 [[2.3,2.5,2.3,2.0,1.7,1.5,1.5,1.4,1.4,1.6,1.8,2.0],[1.8,1.9,2.0,1.5,0.9,0.2,-0.4,-0.9,-1.2,-1.3,-1.1,-0.9],[-1.5,-0.5,0.4,0.8,0.4,-0.1,-0.8,-1.4,-1.7,-1.9,-1.9,-1.8],[0.0,0.7,1.3,1.5,1.2,0.6,0.0,-0.4,-0.6,-0.4,0.0,0.5],[-0.8,0.1,0.8,1.0,0.7,0.2,-0.5,-1.0,-1.3,-1.4,-1.3,-1.1],[-0.3,0.5,1.1,1.3,1.0,0.4,-0.2,-0.7,-0.9,-0.9,-0.8,-0.6],[-0.6,0.0,0.5,0.9,0.8,0.3,-0.3,-0.8,-1.1,-1.1,-1.0,-0.9],[-0.3,0.3,0.8,1.3,1.1,0.7,0.2,-0.2,-0.4,-0.5,-0.4,-0.2],[-0.5,0.0,0.6,1.0,0.7,0.2,-0.4,-0.9,-1.3,-1.5,-1.4,-1.2]]
];

// Row 7: DIC - sTA anom. (µmol kg-1)
const dicTicks = [-25,0,25];
const dicMean = [
 [0,0,0,0,0,0,0,0,0,0,0,0],[0,0,0,0,0,0,0,0,0,0,0,0],[0,0,0,0,0,0,0,0,0,0,0,0],[0,0,0,0,0,0,0,0,0,0,0,0],
 [0,-0.8,-2.1,-3.5,-3.8,-2.1,2,3.9,3.6,2.3,1.2,1.2],
 [-1.3,-5.4,-5.8,-1.3,1.2,2.8,3.6,4.1,3.6,2.8,2,0.8]
];
const dicY2023 = [null,null,null,null,
 [8.6,6.9,4.4,0.3,-4.6,-8.7,-12,-12.8,-13.3,-14.5,-17.8,-21],
 [4.4,-2.1,-5.1,-4.6,-3.8,-3.8,-4.6,-5.4,-5.8,-7.1,-9,-12]
];
const dicHist = [[],[],[],[],
 [[20,22,18,12,10,14,18,15,12,15,20,23],[-5,-8,-12,-18,-25,-28,-25,-20,-22,-30,-38,-45],[5,8,10,8,5,3,8,12,10,8,10,12],[-10,-12,-8,-5,-10,-15,-12,-5,0,-2,-5,-8],[0,-2,-5,-8,-6,-2,4,8,10,8,5,5],[10,5,0,-5,-12,-20,-28,-30,-32,-35,-35,-35],[3,0,-3,-5,-4,0,5,8,6,4,3,3],[-3,-4,-6,-8,-8,-6,-1,2,0,-2,-3,-3],[6,4,2,0,-1,1,4,6,5,3,2,2]],
 [[-25,-22,-15,-8,-3,0,5,8,10,12,14,15],[10,12,10,8,12,17,15,13,12,12,13,14],[0,-5,-8,-5,0,3,5,6,5,4,3,2],[-8,-12,-15,-12,-8,-5,-3,-2,-5,-10,-18,-25],[5,0,-3,0,4,8,10,9,8,6,5,4],[-5,-8,-10,-8,-5,-2,0,-1,-3,-5,-7,-8],[0,-4,-4,0,3,5,6,6,5,4,3,2],[-3,-7,-8,-4,-1,1,2,2,1,0,-1,-2],[2,-2,-3,1,4,6,7,7,6,5,4,3]]
];

// Row 8: NO3 anom. (µmol kg-1)
const no3Ticks = [-3,-2,-1,0,1,2];
const no3Mean = [
 [0,0,0,0,0,0,0,0,0,0,0,0],[0,0,0,0,0,0,0,0,0,0,0,0],[0,0,0,0,0,0,0,0,0,0,0,0],[0,0,0,0,0,0,0,0,0,0,0,0],
 [-0.02,-0.22,-0.35,-0.31,-0.13,0,0.19,0.35,0.19,0.06,0,0],
 [-0.25,-0.6,-0.72,-0.25,0.25,0.44,0.47,0.4,0.31,0.25,0.13,0.03]
];
const no3Y2023 = [null,null,null,null,
 [0.56,0.31,0.13,0.13,0.06,0,-0.13,-0.28,-0.44,-0.6,-0.88,-1.04],
 [0.44,-0.13,-0.56,-0.65,-0.31,0,-0.13,-0.28,-0.38,-0.44,-0.63,-0.88]
];
const no3Hist = [[],[],[],[],
 [[-2.8,-2.0,-1.2,-0.8,-0.5,-0.2,0.0,0.2,0.1,-0.3,-0.8,-1.2],[1.5,1.2,0.9,1.0,1.2,1.4,1.4,1.3,1.2,1.2,1.3,1.4],[0.5,0.3,0.1,0.2,0.5,0.8,0.9,0.7,0.5,0.6,0.7,0.8],[-0.5,-0.7,-0.8,-0.7,-0.4,-0.2,-0.5,-1.0,-1.5,-2.0,-2.5,-2.9],[0.0,-0.2,-0.4,-0.5,-0.3,0.0,0.4,0.6,0.5,0.3,0.1,0.0],[-1.0,-0.8,-0.6,-0.3,0.0,0.2,0.5,0.8,0.7,0.4,0.2,0.0],[0.3,0.0,-0.2,-0.2,0.0,0.2,0.4,0.5,0.4,0.3,0.2,0.2],[-0.3,-0.4,-0.6,-0.5,-0.3,-0.2,0.0,0.1,0.0,-0.2,-0.3,-0.3],[0.1,-0.1,-0.3,-0.2,0.0,0.1,0.3,0.5,0.3,0.1,0.0,0.0]],
 [[-1.7,-1.5,-1.2,-0.6,0.8,2.3,2.0,1.6,1.5,1.4,1.4,1.3],[1.2,0.6,0.0,-0.3,0.5,1.2,1.4,1.2,1.0,0.8,0.7,0.6],[0.0,-0.5,-0.9,-0.8,-0.2,0.3,0.5,0.4,0.3,0.2,0.1,0.0],[-0.8,-1.0,-1.3,-1.1,-0.5,0.0,0.1,-0.2,-0.5,-0.9,-1.3,-1.8],[0.5,0.0,-0.5,-0.3,0.3,0.8,0.9,0.8,0.7,0.5,0.4,0.3],[-0.3,-0.8,-1.0,-0.6,0.0,0.4,0.3,0.0,-0.3,-0.5,-0.6,-0.8],[0.0,-0.4,-0.5,0.0,0.5,0.7,0.7,0.6,0.5,0.4,0.3,0.2],[-0.5,-0.8,-0.9,-0.5,0.0,0.2,0.2,0.2,0.1,0.0,-0.1,-0.2],[-0.2,-0.5,-0.6,-0.2,0.3,0.5,0.6,0.5,0.4,0.3,0.2,0.1]]
];

// Row 9: MLD anom. (m)
const mldTicks = [-20,-10,0,10];
const mldMean = [
 [0,0,0,0,0,0,0,0,0,0,0,0],[0,0,0,0,0,0,0,0,0,0,0,0],[0,0,0,0,0,0,0,0,0,0,0,0],[0,0,0,0,0,0,0,0,0,0,0,0],
 [1.1,-3.9,-6.5,-9.2,-7.7,-3.1,1.1,4.1,5.8,6.6,6.7,4.8],
 [0.5,-4.2,-7.3,-6.9,-1.6,4.5,5.4,3.7,2.8,2.8,2.8,2.8]
];
const mldY2023 = [null,null,null,null,
 [3.3,-2.7,-4.8,-5,-6,-2.7,-0.5,1.3,2.3,2.6,4.8,1.4],
 [0.3,-4.6,-7.7,-8.4,-3.9,3,1.8,-0.1,-1.6,-0.8,-0.2,-0.1]
];
const mldHist = [[],[],[],[],
 [[9,2,-5,-12,-17,-10,-2,5,9,11,10,8],[2,-5,-10,-19,-15,-8,-1,3,6,8,8,5],[0,-3,-5,-6,-5,-2,2,6,8,10,11,8],[-2,-6,-12,-15,-11,-5,-2,-3,-3,-2,-3,-2],[4,-2,-8,-10,-9,-3,3,7,9,9,8,5],[1,-4,-7,-8,-6,-1,4,6,7,8,6,3],[2,-3,-6,-8,-6,-2,2,5,7,8,8,6],[0,-5,-8,-11,-9,-4,0,3,5,6,6,4],[1,-4,-7,-10,-8,-3,1,4,6,7,7,5]],
 [[2,-3,-7,-10,-4,5,9,6,4,4,4,4],[0,-5,-8,-9,-2,4,6,4,3,2,2,1],[4,-2,-6,-7,0,6,7,5,4,4,4,4],[-1,-5,-9,-8,-3,3,4,2,1,0,-2,-3],[1,-3,-5,-6,0,4,5,4,3,3,3,3],[-2,-6,-8,-6,-2,2,5,3,2,1,1,1],[1,-4,-7,-7,-2,4,6,4,3,3,3,3],[0,-5,-8,-8,-2,4,5,3,2,2,2,2],[1,-4,-7,-7,-1,5,6,4,3,3,3,3]]
];

// Row 10: NPP_int anom. (mol m-2 yr-1)
const nppTicks = [-4,0,4];
const nppMean = [
 [0,0,0,0,0,0,0,0,0,0,0,0],[0,0,0,0,0,0,0,0,0,0,0,0],[0,0,0,0,0,0,0,0,0,0,0,0],[0,0,0,0,0,0,0,0,0,0,0,0],
 [-0.07,1.28,1.1,-0.24,-1.6,-1.9,-1.25,1.1,1.96,0.95,-0.24,-1.08],
 [1.8,1.96,1.45,0.27,-1.25,-2.6,-1.9,-0.74,0.1,0.37,0.1,0.17]
];
const nppY2023 = [null,null,null,null,
 [-1.25,0.6,1.28,-0.9,-3.3,-3.1,-2.6,-0.24,-0.9,-1.25,-1.9,-3.3],
 [1.28,1.8,0.6,-1.4,-3.6,-5.8,-6,-5.1,-4.5,-4.4,-4.8,-4.8]
];
const nppHist = [[],[],[],[],
 [[0,2.5,3.5,1.5,0,-2,-1,4,7,6,5,4],[-3,-2,-1,-2,-3,-3.5,-5,-3,-2,-2.5,-3.5,-5],[1.5,3,2,0.5,-1,-1,0,2,4,3,2,1],[-1,0,0.5,-1,-2.5,-2,-2.5,0,2,1,-1,-2],[2,3.5,3,1,-0.5,0,1,3,5,3,1,0],[-2,-1,0,-0.5,-2,-3,-3.5,-1,0.5,-0.5,-2,-3],[0.5,1.8,1.5,0.2,-1.2,-1.5,-1,1.5,2.5,1.5,0.3,-0.5],[-0.5,0.8,0.7,-0.6,-2,-2.3,-1.6,0.6,1.5,0.5,-0.7,-1.5],[0.2,1.5,1.3,0,-1.4,-1.7,-1.2,1.2,2.2,1.2,0,-0.8]],
 [[7.5,7,5,2,-1,-3,-2,0,2,4,5,6],[5.5,6,4,1,-2,-4,-3,-1,1,2,3,4],[-4,-2,0,-1,-3,-6.5,-6,-5,-4.5,-4,-4,-4.5],[2,3,2.5,0,-2,-3.5,-3,-1,0.5,1.5,2,3],[4,4.5,3,0.5,-1.5,-2,-1,0,1,0.5,0,-1],[0,1,0.5,-1,-3,-5,-4.5,-3,-2,-1.5,-1,-1.5],[3,3,2.5,1,-0.5,-2,-1.5,0,1,1.5,1.5,1.5],[0.5,1,0.5,-0.5,-2,-3.5,-2.5,-1.5,-0.5,-0.5,-1,-1],[2,2.5,2,0.5,-1,-2.5,-2,-0.5,0.5,1,1,1]]
];

// Row 11: log(Chl-a) anom. (lg(mg m-3))
const chlTicks = [-0.2,0,0.2];
const chlMean = [
 [0,0,0,0,0,0,0,0,0,0,0,0],[0,0,0,0,0,0,0,0,0,0,0,0],[0,0,0,0,0,0,0,0,0,0,0,0],[0,0,0,0,0,0,0,0,0,0,0,0],
 [-0.004,0.014,-0.014,-0.047,-0.039,-0.014,0.021,0.047,0.053,0.014,-0.007,-0.014],
 [0.06,0.05,0.007,-0.036,-0.071,-0.029,-0.014,0.007,-0.007,-0.033,-0.033,0.021]
];
const chlY2023 = [null,null,null,null,
 [-0.036,0.029,0,-0.05,-0.076,-0.05,-0.029,0.021,-0.024,-0.033,-0.039,-0.061],
 [0.1,0.064,0.014,-0.043,-0.136,-0.2,-0.193,-0.207,-0.229,-0.25,-0.261,-0.2]
];
const chlHist = [[],[],[],[],
 [[0.08,0.06,0.02,-0.02,0.0,0.03,0.08,0.14,0.12,0.08,0.05,0.02],[-0.07,-0.05,-0.06,-0.07,-0.08,-0.06,-0.05,-0.03,-0.05,-0.08,-0.1,-0.13],[0.03,0.05,0.02,-0.02,-0.03,0.0,0.04,0.08,0.07,0.04,0.02,0.0],[-0.03,0.0,-0.02,-0.06,-0.07,-0.04,-0.02,0.02,0.03,-0.01,-0.04,-0.06],[0.0,0.03,0.06,0.02,-0.02,-0.01,0.02,0.06,0.1,0.06,0.02,-0.02],[-0.05,-0.02,0.0,-0.04,-0.05,-0.03,0.0,0.04,0.05,0.02,-0.03,-0.07],[0.02,0.03,0.0,-0.03,-0.03,0.0,0.03,0.06,0.07,0.03,0.01,0.0],[-0.02,0.0,-0.03,-0.06,-0.05,-0.03,0.01,0.03,0.04,0.0,-0.02,-0.03],[0.0,0.02,-0.01,-0.04,-0.04,-0.01,0.02,0.05,0.06,0.02,0.0,-0.01]],
 [[0.24,0.22,0.15,0.08,0.03,0.05,0.08,0.1,0.12,0.15,0.2,0.26],[-0.15,-0.1,-0.05,-0.05,-0.1,-0.15,-0.18,-0.2,-0.22,-0.25,-0.3,-0.28],[0.15,0.12,0.08,0.02,-0.03,0.0,0.03,0.05,0.06,0.08,0.1,0.12],[0.0,0.02,0.0,-0.04,-0.08,-0.05,-0.02,0.0,-0.02,-0.05,-0.08,-0.05],[0.08,0.1,0.05,0.0,-0.05,-0.1,-0.12,-0.1,-0.08,-0.1,-0.12,-0.1],[-0.05,0.0,0.03,0.0,-0.02,0.02,0.05,0.08,0.04,0.0,0.02,0.08],[0.1,0.08,0.04,0.0,-0.04,0.0,0.02,0.04,0.03,0.01,0.01,0.06],[0.03,0.02,-0.02,-0.06,-0.1,-0.06,-0.04,-0.02,-0.04,-0.06,-0.06,-0.02],[0.07,0.06,0.02,-0.02,-0.06,-0.02,0.0,0.02,0.0,-0.02,-0.02,0.03]]
];

// Axis titles (rich text markup: n normal, s subscript, p superscript)
const yTitles = [
 '{n|FCO}{s|2}{n| anom.}\n{n|(mol m}{p|-2}{n| yr}{p|-1}{n|)}',
 '{n|FCO}{s|2}{n| anom.}\n{n|(PgC yr}{p|-1}{n|)}',
 '{n|pCO}{s|2,ocean}{n| anom.}\n{n|(µatm)}',
 '{n|pCO}{s|2,atm}{n| anom.}\n{n|(µatm)}',
 '{n|ΔfCO}{s|2}{n| anom.}\n{n|(µatm)}',
 '{n|SST anom.}\n{n|(°C)}',
 '{n|DIC - sTA anom.}\n{n|(µmol kg}{p|-1}{n|)}',
 '{n|NO}{s|3}{n| anom.}\n{n|(µmol kg}{p|-1}{n|)}',
 '{n|MLD anom.}\n{n|(m)}',
 '{n|NPP}{s|int}{n| anom.}\n{n|(mol m}{p|-2}{n| yr}{p|-1}{n|)}',
 '{n|log(Chl-a) anom.}\n{n|(lg(mg m}{p|-3}{n|))}'
];

// ---------------- LAYOUT / STYLE ----------------
const FONT = '"Liberation Sans", Arial, Helvetica, sans-serif';
const RED = '#C5405A', BLACK = '#1A1A1A', GREY = 'rgba(150,150,150,0.55)';
const PW = 139, PH = 150.5;
const colLeft = c => 156 + 154.0 * c;
const rowTop = r => 117 + 166.1 * r;

const rows = [
 {mean: fco2Mean, y23: fco2Y2023, hist: fco2Hist, ticks: fco2Ticks, min: -1.94, max: 1.73, dec: 0},
 {mean: fco2PgMean, y23: fco2PgY2023, hist: fco2PgHist, ticks: fco2PgTicks, min: -0.348, max: 0.323, dec: 1},
 {mean: pco2oMean, y23: pco2oY2023, hist: pco2oHist, ticks: pco2oTicks, min: -57.4, max: 50.5, dec: 0},
 {mean: pco2aMean, y23: pco2aY2023, hist: pco2aHist, ticks: pco2aTicks, min: -4.35, max: 3.2, dec: 0},
 {mean: dfco2Mean, y23: dfco2Y2023, hist: dfco2Hist, ticks: dfco2Ticks, min: -57.3, max: 50.5, dec: 0},
 {mean: sstMean, y23: sstY2023, hist: sstHist, ticks: sstTicks, min: -2.56, max: 2.86, dec: 0},
 {mean: dicMean, y23: dicY2023, hist: dicHist, ticks: dicTicks, min: -47.5, max: 26.6, dec: 0},
 {mean: no3Mean, y23: no3Y2023, hist: no3Hist, ticks: no3Ticks, min: -3.18, max: 2.47, dec: 0},
 {mean: mldMean, y23: mldY2023, hist: mldHist, ticks: mldTicks, min: -20.9, max: 13.4, dec: 0},
 {mean: nppMean, y23: nppY2023, hist: nppHist, ticks: nppTicks, min: -7.4, max: 7.9, dec: 0},
 {mean: chlMean, y23: chlY2023, hist: chlHist, ticks: chlTicks, min: -0.362, max: 0.285, dec: 1}
];
const NR = rows.length;

const grids = [], xAxes = [], yAxes = [], series = [];
const pts = arr => months.map((m, i) => [m, arr[i]]);

function triangleItem(params, api) {
  const p = api.coord([api.value(0), api.value(1)]);
  return {type: 'polygon', shape: {points: [[p[0] - 7.5, p[1] - 6.5], [p[0] + 7.5, p[1] - 6.5], [p[0], p[1] + 6.5]]},
    style: {fill: '#fff', stroke: '#000', lineWidth: 1.5}};
}

rows.forEach((row, r) => {
  for (let c = 0; c < 6; c++) {
    const gi = r * 6 + c;
    grids.push({left: colLeft(c), top: rowTop(r), width: PW, height: PH, show: true,
      borderColor: '#333', borderWidth: 1.3, backgroundColor: '#fff', containLabel: false, outerBoundsMode: 'none'});
    const bottom = r === NR - 1;
    xAxes.push({gridIndex: gi, type: 'value', min: 1, max: 12, show: bottom,
      axisLine: {show: false, onZero: false}, splitLine: {show: false},
      axisTick: {show: bottom, customValues: xTicks, length: 7, lineStyle: {color: '#333', width: 1.3}},
      axisLabel: {show: bottom, customValues: xTicks, fontSize: 22, color: '#4D4D4D', fontFamily: FONT, margin: 11}});
    const left = c === 0;
    yAxes.push({gridIndex: gi, type: 'value', min: row.min, max: row.max, show: left,
      axisLine: {show: false, onZero: false}, splitLine: {show: false},
      axisTick: {show: left, customValues: row.ticks, length: 7, lineStyle: {color: '#333', width: 1.3}},
      axisLabel: {show: left, customValues: row.ticks, fontSize: 22, color: '#4D4D4D', fontFamily: FONT, margin: 12,
        formatter: v => Number(v).toFixed(row.dec)}});
    const base = {xAxisIndex: gi, yAxisIndex: gi, silent: true, animation: false};
    series.push(Object.assign({type: 'line', data: [[1, 0], [12, 0]], symbol: 'none', clip: true,
      lineStyle: {color: '#222', width: 1.3, type: [6, 4]}, z: 2}, base));
    (row.hist[c] || []).forEach(h => series.push(Object.assign({type: 'line', data: pts(h), symbol: 'none', clip: true,
      lineStyle: {color: GREY, width: 2.2}, z: 3}, base)));
    series.push(Object.assign({type: 'line', data: pts(row.mean[c]), symbol: 'none', clip: true,
      lineStyle: {color: BLACK, width: 4}, z: 4}, base));
    if (row.y23[c]) {
      series.push(Object.assign({type: 'line', data: pts(row.y23[c]), symbol: 'none', clip: true,
        lineStyle: {color: RED, width: 5.5}, z: 5}, base));
      if (r === 0) {
        series.push(Object.assign({type: 'custom', data: pts(row.y23[c]), encode: {x: 0, y: 1}, clip: true,
          renderItem: triangleItem, z: 6}, base));
      }
    }
  }
});

// Legend / titles (non-clipped graphics)
const txt = (x, y, text, size, extra) => Object.assign({type: 'text', x, y, silent: true,
  style: Object.assign({text, fill: '#000', fontSize: size, fontFamily: FONT, align: 'left', textAlign: 'left',
    verticalAlign: 'middle', textVerticalAlign: 'middle'}, extra || {})});
const graphics = [
  txt(157, 31, 'Anomalies from predicted annual mean | PEQU-E', 35.3),
  txt(612, 1985, 'Month', 28, {align: 'center', textAlign: 'center'}),
  {type: 'line', silent: true, shape: {x1: 1113, y1: 896, x2: 1151, y2: 896}, style: {stroke: RED, lineWidth: 5.5}},
  txt(1170, 896, '2023', 22),
  {type: 'line', silent: true, shape: {x1: 1113, y1: 1002, x2: 1151, y2: 1002}, style: {stroke: BLACK, lineWidth: 4}},
  txt(1170, 990, 'Climatological', 22),
  txt(1170, 1015, 'mean', 22),
  {type: 'line', silent: true, shape: {x1: 1113, y1: 1049, x2: 1151, y2: 1049}, style: {stroke: '#CCCCCC', lineWidth: 2.2}},
  txt(1170, 1049, '1990-2022', 22),
  {type: 'polygon', silent: true, shape: {points: [[1125, 1149], [1139, 1149], [1132, 1161]]}, style: {fill: '#fff', stroke: '#000', lineWidth: 1.5}},
  txt(1170, 1154, 'Source', 22)
];
models.forEach((m, c) => {
  graphics.push({type: 'rect', silent: true, shape: {x: colLeft(c), y: 63, width: PW, height: 46},
    style: {fill: '#D9D9D9', stroke: '#333', lineWidth: 1.3}});
});

const chart = echarts.init(document.getElementById('c'), null, {renderer: 'canvas', width: 1344, height: 2016});
chart.setOption({animation: false, backgroundColor: '#fff', grid: grids, xAxis: xAxes, yAxis: yAxes, series, graphic: {elements: graphics}});

// Clipped texts (strip labels and y-axis titles), clipped like facet cells
const zr = chart.getZr();
const RICH = {
  n: {fontSize: 24, fontFamily: FONT, lineHeight: 27, fill: '#000'},
  s: {fontSize: 16, fontFamily: FONT, lineHeight: 16, verticalAlign: 'bottom', fill: '#000'},
  p: {fontSize: 16, fontFamily: FONT, lineHeight: 16, verticalAlign: 'top', fill: '#000'}
};
function clippedText(x, y, rotation, style, clip) {
  try {
    const g = new echarts.graphic.Group();
    const t = new echarts.graphic.Text({x, y, rotation, silent: true,
      style: Object.assign({align: 'center', verticalAlign: 'middle', fill: '#000', fontFamily: FONT}, style)});
    g.add(t);
    g.setClipPath(new echarts.graphic.Rect({shape: clip}));
    zr.add(g);
  } catch (e) { console.error(e); }
}
models.forEach((m, c) => {
  clippedText(colLeft(c) + PW / 2, 86, 0, {text: m, fontSize: 23.5, fill: '#1A1A1A'},
    {x: colLeft(c) + 1, y: 63, width: PW - 2, height: 46});
});
yTitles.forEach((t, r) => {
  clippedText(54, rowTop(r) + PH / 2, Math.PI / 2, {text: t, rich: RICH, fontSize: 24},
    {x: 0, y: rowTop(r), width: 100, height: PH});
});
zr.refreshImmediately && zr.refreshImmediately();
</script>
</body></html>
